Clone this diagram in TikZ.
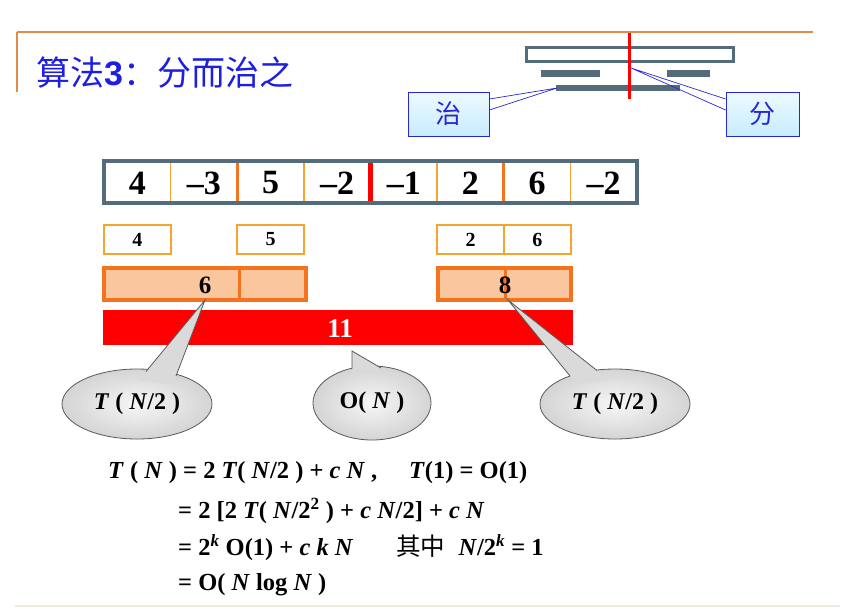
\documentclass[tikz,border=0pt]{standalone}
\usepackage{fontspec}
\setmainfont{Liberation Serif}
\newfontfamily\cjk{Noto Sans CJK SC}
\newfontfamily\arialf{Liberation Sans}
\usetikzlibrary{shapes.geometric,calc}
\definecolor{titleblue}{RGB}{30,30,225}
\definecolor{rulecol}{RGB}{225,140,70}
\definecolor{beige}{RGB}{240,234,222}
\definecolor{grayblue}{RGB}{84,108,122}
\definecolor{thinor}{RGB}{245,165,45}
\definecolor{thickor}{RGB}{245,115,30}
\definecolor{peach}{RGB}{250,198,158}
\definecolor{boxblue}{RGB}{40,40,210}
\definecolor{cyanfill}{RGB}{200,236,255}
\definecolor{ellgray}{RGB}{212,212,212}
\definecolor{elldraw}{RGB}{90,90,90}
\tikzset{
  cellnum/.style={font=\bfseries\fontsize{34}{38}\selectfont, inner sep=0pt},
  sbox/.style={draw=thinor, line width=1.8pt, fill=white, minimum width=66.6pt, minimum height=29pt, inner sep=0pt, font=\bfseries\fontsize{20}{24}\selectfont},
  cbox/.style={draw=boxblue, line width=0.8pt, top color=white!70!cyanfill, bottom color=cyanfill, minimum height=44pt, inner sep=0pt, text=boxblue, font=\cjk\fontsize{26}{30}\selectfont},
  ell/.style={ellipse, draw=elldraw, line width=0.8pt, inner color=white!80!ellgray, outer color=ellgray, inner sep=0pt, font=\bfseries\fontsize{24}{28}\selectfont},
  ptr/.style={fill=ellgray!85!white},
  ptrline/.style={draw=elldraw, line width=0.8pt},
  fline/.style={anchor=west, inner sep=0pt, font=\bfseries\fontsize{24.5}{28}\selectfont},
  callline/.style={draw=boxblue, line width=0.7pt}
}
\begin{document}
\begin{tikzpicture}[x=1pt,y=-1pt]
\useasboundingbox (0,0) rectangle (850,608);
% frame lines
\draw[rulecol, line width=1.3pt] (17,32) -- (813,32);
\draw[rulecol, line width=1.3pt] (17,32) -- (17,92);
\draw[beige, line width=1.5pt] (15,606) -- (840,606);
% title
\node[anchor=west, inner sep=0pt, text=titleblue, font=\fontsize{34}{38}\selectfont] (title) at (36,73)
  {{\cjk 算法}{\arialf\bfseries 3}{\cjk ：分而治之}};
% top-right sketch
\draw[grayblue, line width=3pt] (526,47) rectangle (733,61);
\fill[grayblue] (541,70) rectangle (600,77);
\fill[grayblue] (667,70) rectangle (710,77);
\fill[grayblue] (556,85) rectangle (680,91);
\draw[red, line width=3pt] (629,33) -- (629,99);
\node[cbox, minimum width=81pt] (zhi) at (448.5,114) {治};
\node[cbox, minimum width=73pt] (fen) at (762.5,114) {分};
\coordinate (zhitip) at (557,88);
\coordinate (fentip) at (631,68);
\draw[callline] ($(zhi.east)+(0,-15)$) -- (zhitip) -- ($(zhi.east)+(0,-4)$);
\draw[callline] ($(fen.west)+(0,-15)$) -- (fentip) -- ($(fen.west)+(0,-4)$);
% array
\foreach \v [count=\i] in {4,--3,5,--2,--1,2,6,--2}{
  \node[cellnum] (c\i) at ({104+66.625*(\i-0.5)},183) {\v};
}
\foreach \i in {1,3,5,7}{
  \draw[thinor, line width=1.6pt] ({104+66.625*\i},162) -- ({104+66.625*\i},202);
}
\foreach \i in {2,6}{
  \draw[thickor, line width=3pt] ({104+66.625*\i},162) -- ({104+66.625*\i},202);
}
\draw[red, line width=5pt] ({104+66.625*4},162) -- ({104+66.625*4},202);
\draw[grayblue, line width=3.5pt] (104,161) rectangle (637,203);
% row 2
\node[sbox] (s1) at (137.3,239.5) {4};
\node[sbox] (s3) at (270.6,239.5) {5};
\node[sbox] (s6) at (470.6,239.5) {2};
\node[sbox] (s7) at (537.3,239.5) {6};
% row 3
\draw[thickor, line width=3.5pt, fill=peach] (104,268) rectangle (306,300);
\draw[thickor, line width=3pt] (239,268) -- (239,300);
\node[font=\bfseries\fontsize{25}{28}\selectfont, inner sep=0pt] (six) at (205,285) {6};
\draw[thickor, line width=3.5pt, fill=peach] (438,268) rectangle (571,300);
\draw[thickor, line width=3pt] (505,268) -- (505,300);
\node[font=\bfseries\fontsize{25}{28}\selectfont, inner sep=0pt] (eight) at (505,285) {8};
% red bar
\fill[red] (103,310) rectangle (573,345);
\node[text=white, font=\bfseries\fontsize{27}{30}\selectfont, inner sep=0pt] (eleven) at (340,329) {11};
% callout ellipses
\node[ell, minimum width=150pt, minimum height=70pt] (L) at (137,404) {\textit{T} ( \textit{N}/2 )};
\node[ell, minimum width=118pt, minimum height=74pt] (M) at (372,403) {O( \textit{N} )};
\node[ell, minimum width=150pt, minimum height=70pt] (R) at (615,404) {\textit{T} ( \textit{N}/2 )};
\coordinate (tL) at (205,300);
\coordinate (l1) at (146,371.5);
\coordinate (l2) at (176,376);
\coordinate (tM) at (352,351);
\coordinate (m1) at (352,368.5);
\coordinate (m2) at (381,368);
\coordinate (tR) at (508,300);
\coordinate (r1) at (570,376);
\coordinate (r2) at (597,370.5);
\foreach \t/\a/\b in {tL/l1/l2,tM/m1/m2,tR/r1/r2}{
  \fill[ptr] ($(\t)!1.12!(\a)$) -- (\t) -- ($(\t)!1.12!(\b)$) -- cycle;
  \draw[ptrline] (\a) -- (\t) -- (\b);
}
% formulas
\node[fline] (f1) at (108,473) {\textit{T} ( \textit{N} ) = 2 \textit{T}( \textit{N}/2 ) + \textit{c N} ,\hspace{1.3em}\textit{T}(1) = O(1)};
\node[fline] (f2) at (178,511) {= 2 [2 \textit{T}( \textit{N}/2\textsuperscript{2} ) + \textit{c N}/2] + \textit{c N}};
\node[fline] (f3) at (178,548) {= 2\textsuperscript{\textit{k}} O(1) + \textit{c k N}\hspace{1.75em}{\cjk\mdseries 其中}\hspace{0.55em}\textit{N}/2\textsuperscript{\textit{k}} = 1};
\node[fline] (f4) at (178,585) {= O( \textit{N} log \textit{N} )};
\end{tikzpicture}
\end{document}
